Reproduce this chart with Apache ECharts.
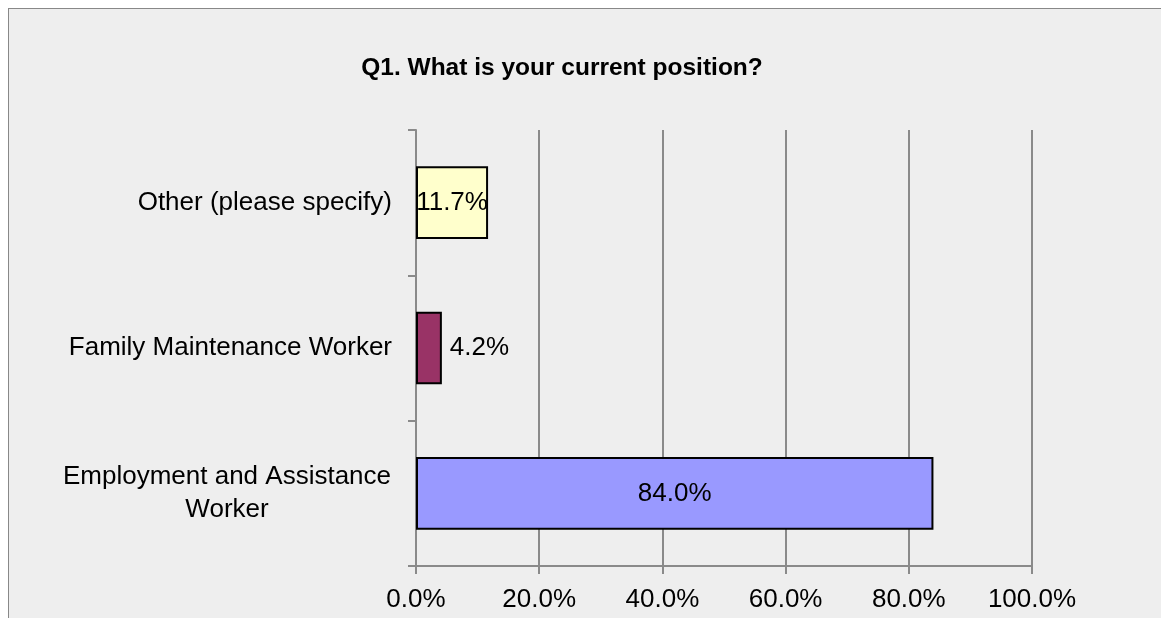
<!DOCTYPE html>
<html>
<head>
<meta charset="utf-8">
<script src="https://cdn.jsdelivr.net/npm/echarts@6/dist/echarts.min.js"></script>
<style>
  html, body { margin: 0; padding: 0; background: #fff; }
  .frame {
    position: absolute; left: 8px; top: 8px; width: 1160px; height: 620px;
    background: #eeeeee; border-left: 1.5px solid #888; border-top: 1.5px solid #888;
  }
  .myChart { position: absolute; left: 0; top: 0; width: 1161px; height: 618px; }
</style>
</head>
<body>
<div class="frame"></div>
<div class="myChart"></div>
<script>
  var categories = ['Employment and Assistance Worker', 'Family Maintenance Worker', 'Other (please specify)']
  var values = [84.0, 4.2, 11.7]
  var barColors = ['#9999ff', '#993366', '#ffffcc']
  var labelPositions = ['inside', 'right', 'inside']
  var tickValues = [0, 20, 40, 60, 80, 100]

  var fontFamily = 'Liberation Sans, Arial, sans-serif'

  var myChart = echarts.init(document.querySelector('.myChart'))
  myChart.setOption({
    backgroundColor: 'transparent',
    animation: false,
    title: {
      text: 'Q1. What is your current position?',
      left: 562,
      top: 56,
      textAlign: 'center',
      padding: 0,
      textStyle: {
        fontFamily: fontFamily,
        fontSize: 24.5,
        fontWeight: 'bold',
        color: '#000'
      }
    },
    grid: {
      left: 416,
      right: 129,
      top: 130,
      bottom: 52
    },
    xAxis: {
      type: 'value',
      min: tickValues[0],
      max: tickValues[tickValues.length - 1],
      interval: 20,
      axisLine: { show: true, lineStyle: { color: '#8a8a8a', width: 2 } },
      axisTick: { show: true, length: 8, lineStyle: { color: '#8a8a8a', width: 2 } },
      splitLine: { show: true, lineStyle: { color: '#8a8a8a', width: 2 } },
      axisLabel: {
        margin: 21,
        fontFamily: fontFamily,
        fontSize: 26,
        color: '#000',
        formatter: function (v) { return v.toFixed(1) + '%' }
      }
    },
    yAxis: {
      type: 'category',
      data: categories,
      axisLine: { show: true, lineStyle: { color: '#8a8a8a', width: 2 } },
      axisTick: { show: true, length: 8, lineStyle: { color: '#8a8a8a', width: 2 } },
      axisLabel: {
        margin: 24,
        fontFamily: fontFamily,
        fontSize: 26,
        lineHeight: 33,
        color: '#000',
        formatter: function (v) {
          if (v === 'Employment and Assistance Worker') {
            return '{c|Employment and Assistance}\n{c|Worker}'
          }
          return v
        },
        rich: {
          c: {
            width: 330,
            align: 'center',
            fontFamily: fontFamily,
            fontSize: 26,
            lineHeight: 33,
            color: '#000'
          }
        }
      }
    },
    series: [
      {
        type: 'bar',
        barWidth: '50%',
        data: values.map(function (v, i) {
          return {
            value: v,
            itemStyle: { color: barColors[i], borderColor: '#000', borderWidth: 2 },
            label: { position: labelPositions[i] }
          }
        }),
        label: {
          show: true,
          distance: 8,
          fontFamily: fontFamily,
          fontSize: 26,
          color: '#000',
          formatter: function (p) { return p.value.toFixed(1) + '%' }
        }
      }
    ]
  })
</script>
</body>
</html>
